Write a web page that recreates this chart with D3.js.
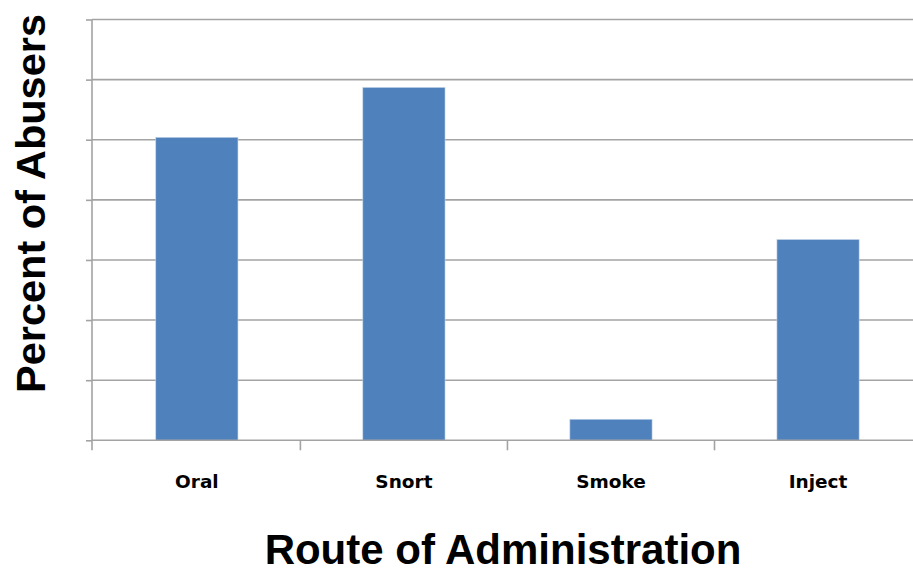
<!DOCTYPE html>
<html>
<head>
<meta charset="utf-8">
<script src="https://cdn.jsdelivr.net/npm/d3@7"></script>
<style>
  html, body { margin: 0; padding: 0; background: #fff; }
  svg { display: block; }
</style>
</head>
<body>
<svg id="chart" width="913" height="573"></svg>
<script>
const categories = ["Oral", "Snort", "Smoke", "Inject"];
const values = [50.4, 58.7, 3.5, 33.4];
const yTicks = [0, 10, 20, 30, 40, 50, 60, 70];
const yTitle = "Percent of Abusers";
const xTitle = "Route of Administration";

const svg = d3.select("#chart");
const plotLeft = 92, plotRight = 922.9, plotTop = 19.5, plotBottom = 440.3;

const x = d3.scaleBand().domain(categories).range([plotLeft, plotRight]).paddingInner(0.603).paddingOuter(0.308);
const y = d3.scaleLinear().domain([0, 70]).range([plotBottom, plotTop]);

const gridColor = "#a3a3a3";

// gridlines
svg.append("g").selectAll("line").data(yTicks.filter(d => d > 0)).join("line")
  .attr("x1", plotLeft).attr("x2", plotRight)
  .attr("y1", d => y(d)).attr("y2", d => y(d))
  .attr("stroke", gridColor).attr("stroke-width", 1.6);

// y axis (ticks only, no labels)
const yAxis = svg.append("g").attr("transform", `translate(${plotLeft},0)`)
  .call(d3.axisLeft(y).tickValues(yTicks).tickSize(6).tickFormat(""));
yAxis.select(".domain").attr("stroke", gridColor).attr("stroke-width", 1.6)
  .attr("d", `M0,${plotTop}V${plotBottom + 10}`);
yAxis.selectAll(".tick line").attr("stroke", gridColor).attr("stroke-width", 1.6);

// bars
svg.append("g").selectAll("rect").data(values).join("rect")
  .attr("x", (d, i) => x(categories[i]))
  .attr("width", x.bandwidth())
  .attr("y", d => y(d))
  .attr("height", d => y(0) - y(d))
  .attr("fill", "#4f81bd")
  .attr("stroke", "#c5d5ea").attr("stroke-width", 0.6);

// x axis
const step = x.step();
const xAxis = svg.append("g").attr("transform", `translate(0,${plotBottom})`)
  .call(d3.axisBottom(x).tickSize(0).tickPadding(0));
xAxis.select(".domain").attr("stroke", gridColor).attr("stroke-width", 1.6)
  .attr("d", `M${plotLeft},0H${plotRight}`);
xAxis.selectAll(".tick text")
  .attr("y", 48)
  .attr("dy", 0)
  .attr("font-family", "'DejaVu Sans', Verdana, sans-serif")
  .attr("font-weight", "bold")
  .attr("font-size", 18.5)
  .attr("fill", "#000");
// category separator ticks
const sepPositions = d3.range(1, categories.length).map(i => x(categories[i]) - step * x.paddingInner() / 2);
svg.append("g").selectAll("line").data(sepPositions).join("line")
  .attr("x1", d => d).attr("x2", d => d)
  .attr("y1", plotBottom).attr("y2", plotBottom + 10)
  .attr("stroke", gridColor).attr("stroke-width", 1.6);

// titles
svg.append("text")
  .attr("transform", `translate(45,${203.5}) rotate(-90)`)
  .attr("text-anchor", "middle")
  .attr("font-family", "'Liberation Sans', Arial, sans-serif")
  .attr("font-weight", "bold")
  .attr("font-size", 41.5)
  .attr("fill", "#000")
  .text(yTitle);

svg.append("text")
  .attr("x", 503).attr("y", 564)
  .attr("text-anchor", "middle")
  .attr("font-family", "'Liberation Sans', Arial, sans-serif")
  .attr("font-weight", "bold")
  .attr("font-size", 42)
  .attr("fill", "#000")
  .text(xTitle);
</script>
</body>
</html>
